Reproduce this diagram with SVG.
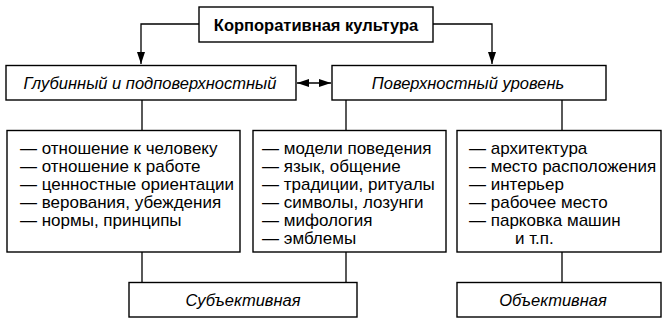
<svg xmlns="http://www.w3.org/2000/svg" width="668" height="325" viewBox="0 0 668 325">
<style>
.box{fill:#fff;stroke:#000;stroke-width:1.4}
.ln{fill:none;stroke:#000;stroke-width:1.3}
.t{font-family:"Liberation Sans",Arial,sans-serif;font-size:17px;fill:#000}
.b{font-weight:bold;font-size:16.5px}
.i{font-style:italic;font-size:16.5px}
.c{text-anchor:middle}
</style>
<defs>
<marker id="ah" viewBox="0 0 12 8" refX="12" refY="4" markerWidth="12" markerHeight="8" markerUnits="userSpaceOnUse" orient="auto-start-reverse">
<path d="M0,0 L12,4 L0,8 Z" fill="#000"/>
</marker>
</defs>
<rect width="668" height="325" fill="#fff"/>
<g id="connectors">
<path class="ln" d="M199,24 H141 V64" marker-end="url(#ah)"/>
<path class="ln" d="M433,24 H492 V64" marker-end="url(#ah)"/>
<path class="ln" d="M297,83 H331" marker-start="url(#ah)" marker-end="url(#ah)"/>
<path class="ln" d="M142,100 V130 M346,100 V130 M562,100 V130"/>
<path class="ln" d="M142,252 V282 M346,252 V282 M562,252 V282"/>
</g>
<g id="root">
<rect class="box" x="199" y="7" width="234" height="35"/>
<text class="t b c" x="316" y="30.5">Корпоративная культура</text>
</g>
<g id="deep">
<rect class="box" x="6" y="65.5" width="290" height="34.5"/>
<text class="t i c" x="150" y="89">Глубинный и подповерхностный</text>
</g>
<g id="surface">
<rect class="box" x="332" y="65.5" width="274" height="34.5"/>
<text class="t i c" x="468" y="89">Поверхностный уровень</text>
</g>
<g id="list-deep">
<rect class="box" x="7" y="130.5" width="233" height="121.5"/>
<text class="t" x="20" y="154">— отношение к человеку</text>
<text class="t" x="20" y="172">— отношение к работе</text>
<text class="t" x="20" y="190">— ценностные ориентации</text>
<text class="t" x="20" y="208">— верования, убеждения</text>
<text class="t" x="20" y="226">— нормы, принципы</text>
</g>
<g id="list-behaviour">
<rect class="box" x="253" y="130.5" width="193" height="121.5"/>
<text class="t" x="262" y="154">— модели поведения</text>
<text class="t" x="262" y="172">— язык, общение</text>
<text class="t" x="262" y="190">— традиции, ритуалы</text>
<text class="t" x="262" y="208">— символы, лозунги</text>
<text class="t" x="262" y="226">— мифология</text>
<text class="t" x="262" y="244">— эмблемы</text>
</g>
<g id="list-physical">
<rect class="box" x="457" y="130.5" width="204" height="121.5"/>
<text class="t" x="469" y="154">— архитектура</text>
<text class="t" x="469" y="172">— место расположения</text>
<text class="t" x="469" y="190">— интерьер</text>
<text class="t" x="469" y="208">— рабочее место</text>
<text class="t" x="469" y="226">— парковка машин</text>
<text class="t" x="515" y="244">и т.п.</text>
</g>
<g id="subjective">
<rect class="box" x="129" y="282.5" width="228" height="34.5"/>
<text class="t i c" x="243" y="306">Субъективная</text>
</g>
<g id="objective">
<rect class="box" x="457" y="282.5" width="204" height="34.5"/>
<text class="t i c" x="553" y="306">Объективная</text>
</g>
</svg>
